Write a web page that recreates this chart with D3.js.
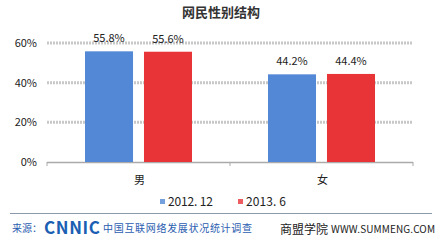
<!DOCTYPE html>
<html>
<head>
<meta charset="utf-8">
<script src="https://d3js.org/d3.v7.min.js"></script>
<style>
  body { margin: 0; background: #fff; }
  text { font-family: "Noto Sans CJK SC", "DejaVu Sans", sans-serif; }
</style>
</head>
<body>
<svg width="443" height="243"></svg>
<script>
var categories = ["男", "女"];
var seriesNames = ["2012. 12", "2013. 6"];
var seriesColors = ["#5388d6", "#e93437"];
var values2012 = [55.8, 44.2];
var values2013 = [55.6, 44.4];
var yTicks = [0, 20, 40, 60];

var svg = d3.select("svg");

var x = d3.scaleBand().domain(categories).range([47, 413]);
// bars 48px wide, 11px apart, centred in each category
var inner = d3.scaleBand().domain(seriesNames).range([38, 145]).paddingInner(0.186);
var y = d3.scaleLinear().domain([0, 60]).range([162, 43]);

svg.append("text").attr("x", 221).attr("y", 17).attr("text-anchor", "middle")
  .attr("font-size", 13).attr("font-weight", "bold").attr("fill", "#333").text("网民性别结构");

// gridlines
svg.append("g").selectAll("line").data(yTicks.filter(d => d > 0)).join("line")
  .attr("x1", 47).attr("x2", 413).attr("y1", d => y(d)).attr("y2", d => y(d))
  .attr("stroke", "#c8c8c8").attr("stroke-width", 3).attr("stroke-dasharray", "2,1");

// y labels
svg.append("g").selectAll("text").data(yTicks).join("text")
  .attr("x", 37).attr("y", d => y(d) + 4).attr("text-anchor", "end")
  .attr("font-size", 11).attr("fill", "#222").text(d => d + "%");

// axis line
svg.append("line").attr("x1", 47).attr("x2", 413).attr("y1", y(0) + 0.5).attr("y2", y(0) + 0.5)
  .attr("stroke", "#aaa").attr("stroke-width", 1.5);
svg.append("g").selectAll("line").data([47, 230, 413]).join("line")
  .attr("x1", d => d).attr("x2", d => d).attr("y1", y(0)).attr("y2", y(0) + 4)
  .attr("stroke", "#aaa");

var series = [values2012, values2013];
series.forEach(function (vals, si) {
  var g = svg.append("g");
  g.selectAll("rect").data(vals).join("rect")
    .attr("x", (d, i) => x(categories[i]) + inner(seriesNames[si]))
    .attr("y", d => y(d))
    .attr("width", inner.bandwidth())
    .attr("height", d => y(0) - y(d))
    .attr("fill", seriesColors[si]);
  g.selectAll("text").data(vals).join("text")
    .attr("x", (d, i) => x(categories[i]) + inner(seriesNames[si]) + inner.bandwidth() / 2)
    .attr("y", d => y(d) - 9)
    .attr("text-anchor", "middle").attr("font-size", 11).attr("fill", "#222")
    .text(d => d.toFixed(1) + "%");
});

// category labels
svg.append("g").selectAll("text").data(categories).join("text")
  .attr("x", d => x(d) + x.bandwidth() / 2 + 1).attr("y", 184)
  .attr("text-anchor", "middle").attr("font-size", 11).attr("fill", "#222").text(d => d);

// legend
var legX = [160, 238];
var legW = [45, 40];
seriesNames.forEach(function (n, i) {
  svg.append("rect").attr("x", legX[i]).attr("y", 199).attr("width", 5).attr("height", 5)
    .attr("fill", seriesColors[i]).attr("opacity", 0.8);
  svg.append("text").attr("x", legX[i] + 8).attr("y", 206).attr("font-size", 12)
    .attr("fill", "#222").attr("textLength", legW[i]).text(n);
});

// footer
svg.append("line").attr("x1", 10).attr("x2", 432).attr("y1", 213.5).attr("y2", 213.5)
  .attr("stroke", "#8a9aaa").attr("stroke-width", 1);
svg.append("text").attr("x", 12).attr("y", 232).attr("font-size", 10).attr("fill", "#2a5db0").text("来源：");
svg.append("text").attr("x", 44).attr("y", 234).attr("font-size", 17).attr("font-weight", "bold")
  .attr("font-family", "Liberation Sans, Arial, sans-serif")
  .attr("fill", "#1b5fb3").attr("textLength", 56).text("CNNIC");
svg.append("text").attr("x", 103).attr("y", 232).attr("font-size", 10).attr("fill", "#2a5db0")
  .attr("textLength", 149).text("中国互联网络发展状况统计调查");
svg.append("text").attr("x", 280).attr("y", 234).attr("font-size", 12).attr("fill", "#222").text("商盟学院");
svg.append("text").attr("x", 331).attr("y", 233).attr("font-size", 10).attr("fill", "#222")
  .attr("font-family", "DejaVu Sans Mono, monospace").attr("textLength", 104).text("WWW.SUMMENG.COM");
</script>
</body>
</html>
